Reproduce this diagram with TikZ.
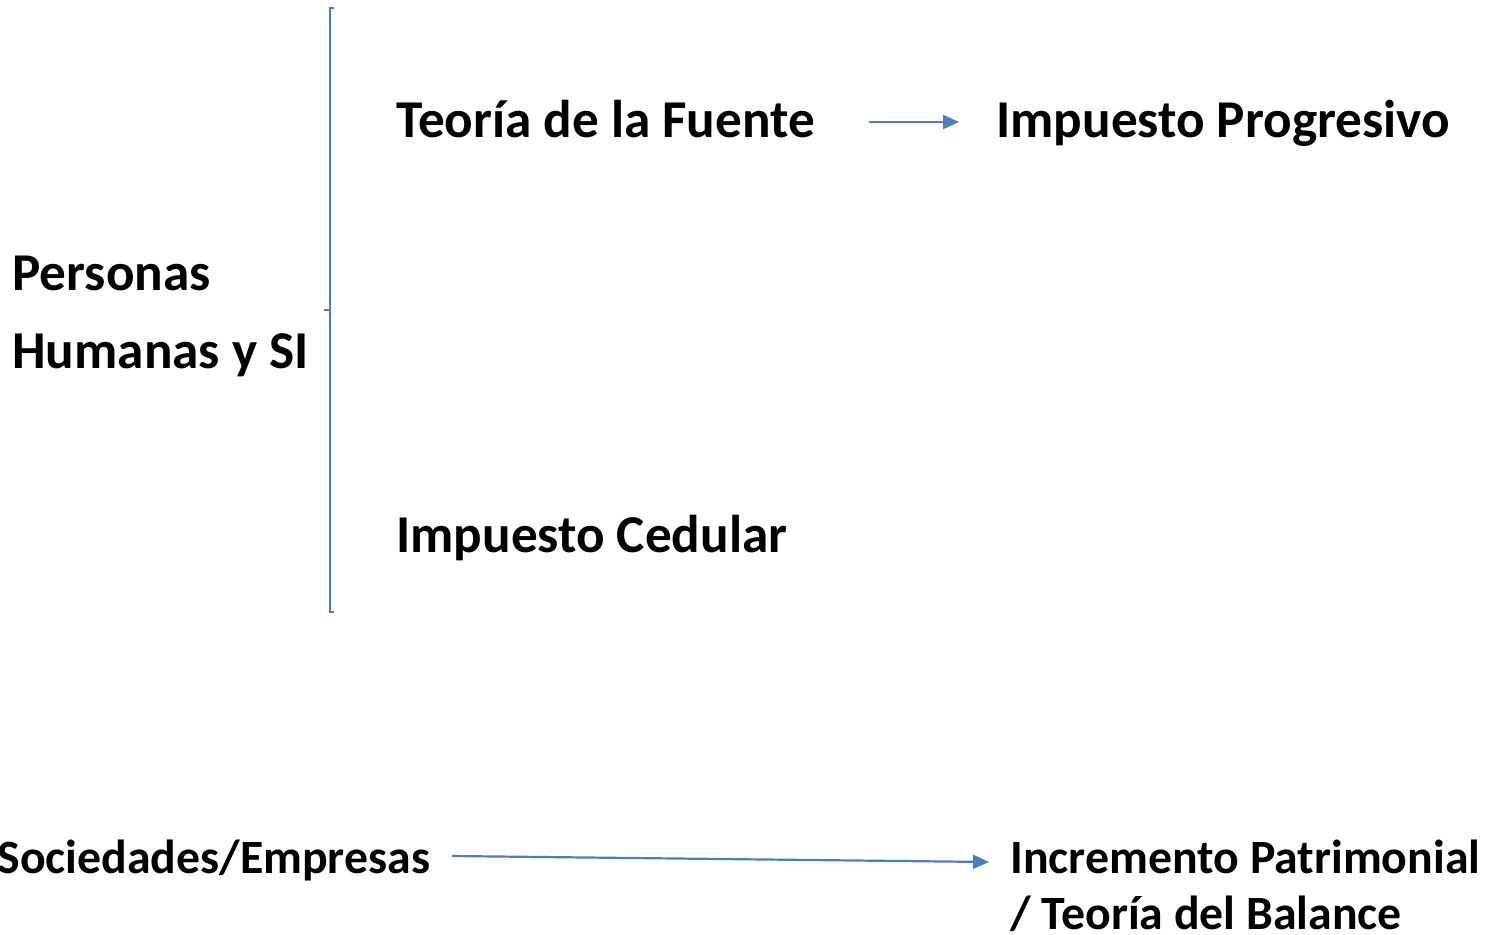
\documentclass[tikz,border=0pt]{standalone}
\usepackage{fontspec}
\setmainfont{Carlito}
\usetikzlibrary{arrows.meta}
\definecolor{lineblue}{RGB}{74,126,187}
\begin{document}
\begin{tikzpicture}[x=0.5pt,y=-0.5pt,
  lbl/.style={inner sep=0pt,anchor=base west,font=\bfseries\fontsize{26.6}{32}\selectfont},
  lblsmall/.style={inner sep=0pt,anchor=base west,font=\bfseries\fontsize{23.9}{28}\selectfont},
  conn/.style={draw=lineblue,line width=1.1pt,-{Triangle[length=8pt,width=7pt]}},
  bracket/.style={draw=lineblue,line width=1pt}]
\useasboundingbox (0,0) rectangle (1486,935);
\node[lbl] (fuente) at (396,138) {Teoría de la Fuente};
\node[lbl] (progresivo) at (996,138) {Impuesto Progresivo};
\node[lbl] (personas) at (12,291) {Personas};
\node[lbl] (humanas) at (12,368) {Humanas y SI};
\node[lbl] (cedular) at (396,552) {Impuesto Cedular};
\node[lblsmall] (sociedades) at (-3,873) {Sociedades/Empresas};
\node[lblsmall] (incremento) at (1010,873) {Incremento Patrimonial};
\node[lblsmall] (balance) at (1010,929) {/ Teoría del Balance};
\coordinate (btop) at (330,8);
\coordinate (bbot) at (330,612);
\draw[bracket] (334,8) -- (btop) -- (bbot) -- (334,612);
\draw[bracket] (324,310) -- (330,310);
\draw[conn] (869,122) -- (959,122);
\draw[conn] (452,856) -- (989,862);
\end{tikzpicture}
\end{document}
